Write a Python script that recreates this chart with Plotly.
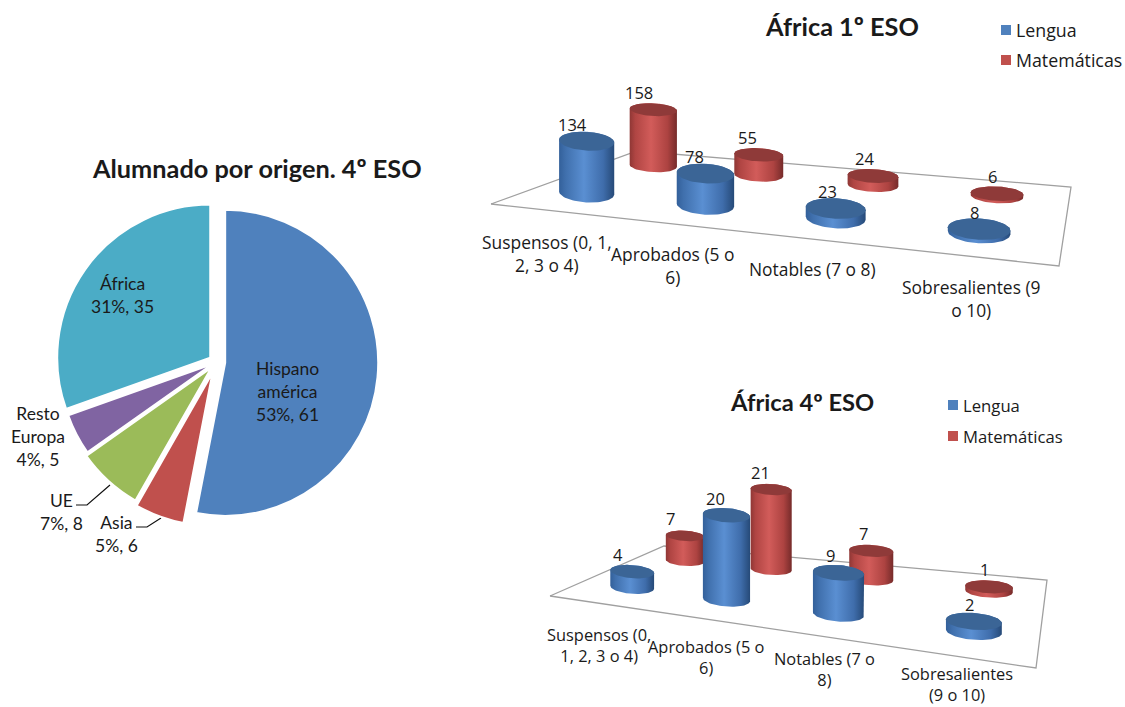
import numpy as np
import plotly.graph_objects as go

# Pie: pupils by origin, 4th year
origin_labels = ["Hispano<br>américa", "Asia", "UE", "Resto<br>Europa", "África"]
origin_values = [61, 6, 8, 5, 35]
origin_percent = [53, 5, 7, 4, 31]
origin_colors = ["#4f81bd", "#c0504d", "#9bbb59", "#8064a2", "#4bacc6"]
origin_pull = [0.057, 0.075, 0.05, 0.03, 0.05]

# Grades, Africa 1st year
grade_labels_1 = ["Suspensos (0, 1,<br>2, 3 o 4)", "Aprobados (5 o<br>6)", "Notables (7 o 8)", "Sobresalientes (9<br>o 10)"]
lengua_1 = [134, 78, 23, 8]
mates_1 = [158, 55, 24, 6]

# Grades, Africa 4th year
grade_labels_4 = ["Suspensos (0,<br>1, 2, 3 o 4)", "Aprobados (5 o<br>6)", "Notables (7 o<br>8)", "Sobresalientes<br>(9 o 10)"]
lengua_4 = [4, 20, 9, 2]
mates_4 = [7, 21, 7, 1]

W, H = 1125, 707
LATO = "Lato, Carlito, sans-serif"
OPEN = "Open Sans, DejaVu Sans, sans-serif"
INK = "#1a1a1a"

BLUE_SCALE = [[0, "#33609a"], [0.12, "#4070ad"], [0.45, "#5a8fd2"], [0.8, "#3f6dab"], [1, "#264a78"]]
RED_SCALE = [[0, "#8f3735"], [0.12, "#b04543"], [0.45, "#d25c5a"], [0.8, "#ad4341"], [1, "#762b2a"]]
BLUE_TOP, RED_TOP = "#3b6596", "#8f3a39"


def homography(p00, p10, p11, p01):
    """Map the unit square of the chart floor on to its drawn quadrilateral."""
    (x0, y0), (x1, y1), (x2, y2), (x3, y3) = p00, p10, p11, p01
    dx1, dx2, sx = x1 - x2, x3 - x2, x0 - x1 + x2 - x3
    dy1, dy2, sy = y1 - y2, y3 - y2, y0 - y1 + y2 - y3
    den = dx1 * dy2 - dx2 * dy1
    g = (sx * dy2 - dx2 * sy) / den
    h = (dx1 * sy - sx * dy1) / den
    a, b = x1 - x0 + g * x1, x3 - x0 + h * x3
    d, e = y1 - y0 + g * y1, y3 - y0 + h * y3

    def project(u, v):
        w = g * u + h * v + 1
        return np.array([(a * u + b * v + x0) / w, (d * u + e * v + y0) / w])

    return project


def hull(points):
    """Convex outline of the cylinder body, from its two end ellipses."""
    pts = sorted(map(tuple, points))

    def half(seq):
        out = []
        for p in seq:
            while len(out) > 1 and (out[-1][0] - out[-2][0]) * (p[1] - out[-2][1]) - (out[-1][1] - out[-2][1]) * (p[0] - out[-2][0]) <= 0:
                out.pop()
            out.append(p)
        return out[:-1]

    return np.array(half(pts) + half(pts[::-1]))


fig = go.Figure()
annotations = []


def note(x, y, text, size, family=OPEN, bold=False, anchor="center"):
    annotations.append(dict(
        x=x, y=y, xref="x", yref="y", text=f"<b>{text}</b>" if bold else text,
        showarrow=False, xanchor=anchor, yanchor="middle", align="center",
        font=dict(family=family, size=size, color=INK),
    ))


def line(xs, ys, color="#a0a0a0", width=1.3):
    fig.add_trace(go.Scatter(x=xs, y=ys, mode="lines", line=dict(color=color, width=width),
                             hoverinfo="skip", showlegend=False))


def local_scale(project, u, v):
    du = (project(u + 0.01, v) - project(u - 0.01, v)) / 0.02
    return du, np.hypot(*du)


def cylinder(project, u, v, value, k, radius, ratio, scale, top_color):
    base = project(u, v)
    du, here = local_scale(project, u, v)
    _, middle = local_scale(project, 0.5, v)
    # Perspective only partly widens the nearer cylinders
    rx = radius * middle * (here / middle) ** 0.45
    ry = rx * ratio
    tilt = 0.6 * np.arctan2(du[1], du[0])
    t = np.linspace(0, 2 * np.pi, 73)
    ex = rx * np.cos(t) * np.cos(tilt) - ry * np.sin(t) * np.sin(tilt)
    ey = rx * np.cos(t) * np.sin(tilt) + ry * np.sin(t) * np.cos(tilt)
    rise = value * k * rx
    top = base - [0, rise]
    outline = hull(np.r_[np.c_[base[0] + ex, base[1] + ey], np.c_[top[0] + ex, top[1] + ey]])
    fig.add_trace(go.Scatter(
        x=np.r_[outline[:, 0], outline[0, 0]], y=np.r_[outline[:, 1], outline[0, 1]],
        mode="lines", line=dict(width=0, color="rgba(0,0,0,0)"), fill="toself",
        fillgradient=dict(type="horizontal", colorscale=scale),
        hoverinfo="skip", showlegend=False,
    ))
    fig.add_trace(go.Scatter(
        x=top[0] + ex, y=top[1] + ey, mode="lines", line=dict(width=0, color=top_color),
        fill="toself", fillcolor=top_color, hoverinfo="skip", showlegend=False,
    ))
    note(top[0] - 16 + 13 * u, top[1] - 17, str(value), 16.5)


def bar_chart(floor, lengua, mates, k_blue, k_red, radius, offset, blue_ratio, labels, label_xy, label_size,
              title, title_xy, legend_xy, legend_size, title_size):
    project = homography(*floor)
    corners = list(floor) + [floor[0]]
    line([p[0] for p in corners], [p[1] for p in corners])
    n = len(lengua)
    for i in range(n):
        cylinder(project, (i + offset) / n, 0.75, mates[i], k_red, radius * 0.97, 0.27, RED_SCALE, RED_TOP)
    for i in range(n):
        cylinder(project, (i + offset) / n, 0.25, lengua[i], k_blue, radius, blue_ratio, BLUE_SCALE, BLUE_TOP)
    for text, (x, y) in zip(labels, label_xy):
        note(x, y, text, label_size)
    note(*title_xy, title, title_size, LATO, True)
    lx, ly, step = legend_xy
    for j, (name, color) in enumerate([("Lengua", "#4f81bd"), ("Matemáticas", "#c0504d")]):
        fig.add_trace(go.Scatter(x=[lx], y=[ly + j * step], mode="markers",
                                 marker=dict(symbol="square", size=10, color=color),
                                 hoverinfo="skip", showlegend=False))
        note(lx + 8, ly + j * step, name, legend_size, anchor="left")


bar_chart(
    floor=[(491, 204), (1059, 266), (1071, 187), (637, 151)],
    lengua=lengua_1, mates=mates_1, k_blue=0.014, k_red=0.015, radius=0.056, offset=0.46, blue_ratio=0.34,
    labels=grade_labels_1,
    label_xy=[(547, 253), (672, 265), (812, 269), (971, 298)], label_size=17.4,
    title="África 1º ESO", title_xy=(842, 26),
    legend_xy=(1006, 30, 30), legend_size=17.8, title_size=25.3,
)
bar_chart(
    floor=[(550, 596), (1036, 668), (1047, 580), (664, 546)],
    lengua=lengua_4, mates=mates_4, k_blue=0.178, k_red=0.185, radius=0.055, offset=0.58, blue_ratio=0.3,
    labels=grade_labels_4,
    label_xy=[(599, 645), (706, 657), (824, 669), (957, 684)], label_size=16.4,
    title="África 4º ESO", title_xy=(802, 402),
    legend_xy=(953, 405, 31), legend_size=16.7, title_size=23.7,
)

# Pie, placed through its domain so that the slices keep their true shares
cx, cy, outer = 216.5, 362, 164.5
fig.add_trace(go.Pie(
    values=origin_values, labels=[s.replace("<br>", " ") for s in origin_labels],
    sort=False, direction="clockwise", rotation=0, pull=origin_pull,
    marker=dict(colors=origin_colors, line=dict(color="white", width=2)),
    textinfo="none", hoverinfo="skip", showlegend=False,
    domain=dict(x=[(cx - outer) / W, (cx + outer) / W], y=[1 - (cy + outer) / H, 1 - (cy - outer) / H]),
))
note(257, 168, "Alumnado por origen. 4º ESO", 25.3, LATO, True)
pie_label_xy = [(287, 391), (116, 534), (61, 512), (38, 436), (122, 295)]
for name, val, pct, (x, y) in zip(origin_labels, origin_values, origin_percent, pie_label_xy):
    note(x, y, f"{name}<br>{pct}%, {val}", 17.5, LATO)

# Leader lines for the two outer pie labels
line([76, 87, 110], [505, 505, 485], color="#111111", width=1.2)
line([136, 147, 161], [527, 527, 518], color="#111111", width=1.2)

fig.update_layout(
    width=W, height=H, margin=dict(l=0, r=0, t=0, b=0),
    paper_bgcolor="white", plot_bgcolor="white", showlegend=False,
    xaxis=dict(range=[0, W], visible=False, fixedrange=True),
    yaxis=dict(range=[H, 0], visible=False, fixedrange=True),
    annotations=annotations,
)
fig.write_html("out.html", config={"displayModeBar": False})
